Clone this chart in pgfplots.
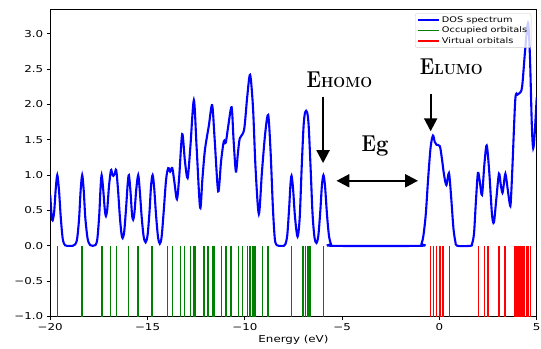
\documentclass[border=0pt]{standalone}
\usepackage{fontspec}
\usepackage{graphicx}
\usepackage{pgfplots}
\pgfplotsset{compat=1.18}
\usetikzlibrary{calc,arrows.meta}
\newfontfamily\dvs{DejaVu Sans}[FakeStretch=1.25]
\newcommand\tickfont{\dvs\fontsize{9.5bp}{11bp}\selectfont}
\newcommand\legfont{\dvs\fontsize{7.8bp}{9bp}\selectfont}
\definecolor{mplgreen}{RGB}{0,128,0}
\definecolor{mplblue}{RGB}{0,0,255}
\definecolor{mplred}{RGB}{255,0,0}
\begin{document}
\begin{tikzpicture}
\begin{axis}[
  scale only axis, width=486.7bp, height=307.7bp,
  xmin=-20, xmax=5, ymin=-1, ymax=3.35,
  xtick={-20,-15,-10,-5,0,5},
  xticklabels={−20,−15,−10,−5,0,5},
  ytick={-1,-0.5,0,0.5,1,1.5,2,2.5,3},
  yticklabels={−1.0,−0.5,0.0,0.5,1.0,1.5,2.0,2.5,3.0},
  tick align=outside, tick pos=left, major tick length=3.5bp,
  tick style={black, line width=0.8bp},
  axis line style={line width=0.8bp},
  ticklabel style={font=\tickfont},
  xlabel={Energy (eV)}, xlabel style={font=\tickfont, yshift=2bp},
  legend style={at={(axis description cs:0.989,0.986)}, anchor=north east,
    font=\legfont, draw=black!20, fill=white, fill opacity=0.8, text opacity=1,
    rounded corners=2bp, inner xsep=2bp, inner ysep=1bp, row sep=-1bp},
  legend cell align=left,
  legend image code/.code={\draw[#1, line width=1.8bp] (0bp,0bp) -- (21bp,0bp);},
  unbounded coords=jump,
]
\addplot[mplblue, line width=2.1bp, smooth, tension=0.5] coordinates {
(-20.00,0.72) (-19.93,0.42) (-19.88,0.36) (-19.80,0.48) (-19.72,0.80) (-19.64,1.00)
(-19.55,0.78) (-19.46,0.40) (-19.36,0.10) (-19.25,0.01) (-19.15,0.0) (-18.85,0.0)
(-18.72,0.02) (-18.62,0.10) (-18.52,0.38) (-18.44,0.78) (-18.36,1.00) (-18.28,0.78)
(-18.20,0.40) (-18.08,0.10) (-17.95,0.01) (-17.82,0.0) (-17.68,0.01) (-17.58,0.10)
(-17.48,0.45) (-17.42,0.80) (-17.36,1.00) (-17.28,0.80) (-17.20,0.52) (-17.14,0.42)
(-17.07,0.52) (-16.98,0.85) (-16.88,1.07) (-16.82,1.02) (-16.76,0.99) (-16.69,1.02)
(-16.61,1.07) (-16.52,0.80) (-16.42,0.40) (-16.34,0.17) (-16.28,0.11) (-16.20,0.20)
(-16.10,0.55) (-16.02,0.88) (-15.96,1.00) (-15.88,0.78) (-15.80,0.45) (-15.74,0.37)
(-15.67,0.48) (-15.58,0.80) (-15.48,1.00) (-15.40,0.78) (-15.30,0.40) (-15.20,0.13)
(-15.10,0.05) (-15.00,0.15) (-14.90,0.48) (-14.82,0.85) (-14.74,1.00) (-14.66,0.82)
(-14.56,0.42) (-14.46,0.12) (-14.37,0.03) (-14.28,0.12) (-14.18,0.45) (-14.05,0.93)
(-13.94,1.10) (-13.84,1.05) (-13.73,1.10) (-13.62,0.90) (-13.49,0.66) (-13.38,0.95)
(-13.22,1.58) (-13.08,1.20) (-12.94,0.96) (-12.80,1.40) (-12.62,2.06) (-12.48,1.40)
(-12.30,0.54) (-12.18,0.95) (-12.05,1.36) (-11.85,1.70) (-11.68,1.99) (-11.55,1.50)
(-11.37,0.77) (-11.22,1.20) (-11.08,1.48) (-10.98,1.46) (-10.85,1.70) (-10.68,1.96)
(-10.58,1.50) (-10.46,1.05) (-10.36,1.30) (-10.26,1.52) (-10.04,1.64) (-9.88,2.10)
(-9.73,2.42) (-9.58,1.95) (-9.45,1.10) (-9.28,0.45) (-9.12,1.05) (-8.95,1.60)
(-8.80,1.85) (-8.68,1.35) (-8.56,0.55) (-8.46,0.10) (-8.36,0.01) (-8.25,0.0)
(-8.00,0.0) (-7.92,0.02) (-7.82,0.15) (-7.72,0.55) (-7.66,0.85) (-7.60,0.99)
(-7.52,0.80) (-7.42,0.40) (-7.29,0.13) (-7.18,0.40) (-7.08,1.10) (-6.98,1.70)
(-6.90,1.89) (-6.80,1.89) (-6.72,1.70) (-6.62,1.10) (-6.52,0.45) (-6.42,0.12)
(-6.32,0.04) (-6.22,0.15) (-6.12,0.50) (-6.04,0.85) (-5.96,1.00) (-5.88,0.85)
(-5.78,0.45) (-5.68,0.15) (-5.58,0.03) (-5.45,0.0) (-1.05,0.0) (-0.92,0.03)
(-0.82,0.15) (-0.70,0.45) (-0.58,0.95) (-0.45,1.40) (-0.33,1.56) (-0.24,1.47)
(-0.15,1.43) (0.02,1.41) (0.12,1.25) (0.24,1.00) (0.36,0.86) (0.49,1.03)
(0.60,0.70) (0.72,0.25) (0.82,0.06) (0.92,0.0) (1.60,0.0) (1.68,0.03)
(1.78,0.18) (1.88,0.65) (1.98,1.03) (2.08,0.90) (2.19,0.72) (2.31,1.15)
(2.43,1.42) (2.56,1.05) (2.70,0.45) (2.80,0.33) (2.92,0.65) (3.06,1.02)
(3.16,0.85) (3.24,0.75) (3.30,0.85) (3.39,1.02) (3.50,0.82) (3.60,0.62)
(3.66,0.59) (3.75,1.10) (3.90,2.07) (4.02,2.14) (4.12,2.16) (4.25,2.25)
(4.40,2.75) (4.55,3.15) (4.65,2.70) (4.75,1.70) (4.82,1.38) (4.90,1.60) (5.00,2.10)
};
\addlegendentry{DOS spectrum}
\addlegendimage{mplgreen}
\addlegendentry{Occupied orbitals}
\addlegendimage{mplred}
\addlegendentry{Virtual orbitals}
\addplot[mplgreen, line width=1.5bp, ycomb, forget plot] coordinates {
(-19.64,-1) (-18.36,-1) (-17.33,-1) (-16.90,-1) (-16.59,-1) (-15.97,-1) (-15.50,-1)
(-14.76,-1) (-13.97,-1) (-13.71,-1) (-13.30,-1) (-13.09,-1) (-12.80,-1) (-12.62,-1)
(-12.57,-1) (-12.10,-1) (-11.89,-1) (-11.65,-1) (-11.59,-1) (-11.21,-1) (-10.97,-1)
(-10.74,-1) (-10.68,-1) (-10.33,-1) (-10.11,-1) (-9.87,-1) (-9.74,-1) (-9.70,-1)
(-9.58,-1) (-9.48,-1) (-9.09,-1) (-8.80,-1) (-7.60,-1) (-7.01,-1) (-6.88,-1)
(-6.75,-1) (-6.66,-1) (-5.97,-1)
};
\addplot[mplred, line width=1.5bp, ycomb, forget plot] coordinates {
(-0.45,-1) (-0.31,-1) (-0.14,-1) (0.02,-1) (0.18,-1) (0.51,-1) (2.00,-1) (2.31,-1)
(2.49,-1) (3.05,-1) (3.37,-1) (3.86,-1) (3.94,-1) (4.03,-1) (4.14,-1) (4.24,-1)
(4.34,-1) (4.50,-1) (4.59,-1) (4.69,-1)
};
\node[anchor=base west, inner sep=0pt] at (axis cs:-6.83,2.245)
  {\bfseries\scalebox{0.85}[1]{\fontsize{23bp}{23bp}\selectfont E}\scalebox{0.96}[1]{\fontsize{14.6bp}{15bp}\selectfont HOMO}};
\node[anchor=base west, inner sep=0pt] at (axis cs:-1.01,2.43)
  {\bfseries\scalebox{0.85}[1]{\fontsize{23bp}{23bp}\selectfont E}\scalebox{0.96}[1]{\fontsize{14.6bp}{15bp}\selectfont LUMO}};
\node[anchor=base west, inner sep=0pt] at (axis cs:-4.01,1.334)
  {\bfseries\scalebox{0.85}[1]{\fontsize{23bp}{23bp}\selectfont E}\scalebox{0.96}[1]{\fontsize{23bp}{23bp}\selectfont g}};
\draw[line width=2.2bp, -{Triangle[length=13bp,width=13bp]}] (axis cs:-5.98,2.11) -- (axis cs:-5.98,1.17);
\draw[line width=2.2bp, -{Triangle[length=13bp,width=13bp]}] (axis cs:-0.45,2.15) -- (axis cs:-0.45,1.62);
\draw[line width=2.2bp, {Triangle[length=13bp,width=13bp]}-{Triangle[length=13bp,width=13bp]}] (axis cs:-5.29,0.92) -- (axis cs:-1.10,0.92);
\end{axis}
\pgfresetboundingbox
\path ($(current axis.south west)+(-50.3bp,-32.3bp)$) rectangle ($(current axis.north east)+(4.3bp,9bp)$);
\end{tikzpicture}
\end{document}
